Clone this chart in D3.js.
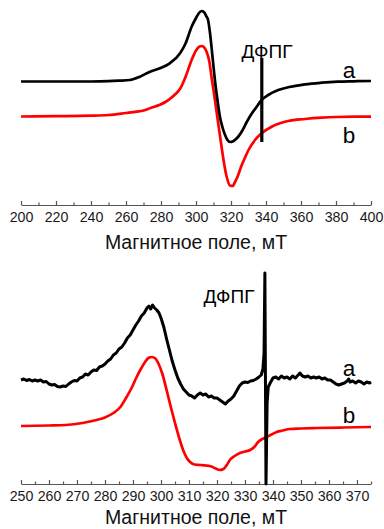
<!DOCTYPE html>
<html>
<head>
<meta charset="utf-8">
<script src="https://cdn.jsdelivr.net/npm/d3@7"></script>
<style>
  body { margin: 0; background: #fff; }
  svg { display: block; font-family: "Liberation Sans", Arial, sans-serif; }
</style>
</head>
<body>
<div id="chart"></div>
<script>
// ---- data: field (mT), signal (a.u., 0 = own baseline) ----
const topFieldTicks = d3.range(200, 401, 20);
const topMinorTicks = d3.range(210, 400, 20);
const botFieldTicks = d3.range(250, 371, 10);
const botMinorTicks = d3.range(255, 376, 10);
const axisTitle = 'Магнитное поле, мТ';
const dpphLabel = 'ДФПГ';

// upper panel, sample a
const topA = [
  [200, 0], [220, 0], [240, 0], [250, 0.3], [256, 0.8], [262.3, 1.5], [268, 4.8],
  [273.7, 9.8], [279.4, 13.2], [285, 18.2], [290.9, 28.2], [294, 38], [297.5, 54.8],
  [300, 63.5], [301.5, 68], [303.2, 70.5], [304.5, 69.5], [306, 65], [306.9, 61.5],
  [308, 48.5], [309.5, 23.5], [311, -1.5], [312.3, -19], [313.7, -35.5], [315, -45],
  [316.6, -53.5], [318, -58.5], [319.4, -60.5], [321, -60], [322.5, -58], [324, -55.5],
  [326.5, -49], [329, -40.5], [331.5, -33], [334.6, -25.5], [337.5, -18.5], [341.3, -13.5],
  [347, -8.5], [352.6, -5.8], [362.3, -2.8], [371.8, -1.2], [381, -0.2], [390, 0.2], [400, 0.5]
];
// upper panel, sample b
const topB = [
  [200, 0], [220, 0.3], [240, 0.8], [250, 1.5], [260, 3.5], [266, 4.8], [270, 6],
  [274, 8.5], [279, 11.5], [283, 15], [285, 17.5], [288, 22], [291, 28], [294, 39.5],
  [297.5, 56.5], [300, 66], [302, 70], [303.2, 70.5], [304.5, 69.5], [306, 65], [307.5, 56],
  [309, 38], [310, 26.5], [311.5, 8], [313, -10.5], [314.5, -29], [316, -46.5], [317.5, -60],
  [319.4, -69], [321, -69.5], [322, -66.5], [324, -59], [325.7, -50.5], [328, -41],
  [330, -33.5], [333.7, -23.5], [337.5, -16.8], [343.2, -10.2], [348, -6.8], [352.6, -4.5],
  [362.3, -2.5], [371.8, -1.2], [380, -0.5], [390.9, -0.2], [400, -0.2]
];
const topOffsets = { a: 123.5, b: 88.5 };
const topDpph = { field: 337.6, from: 63, to: 147 };

// lower panel, sample a (noisy, with DPPH reference line)
const botA = [
  [250, 3], [251, 4], [252, 2.5], [253, 3.5], [254, 2], [255, 3], [256, 2], [257, 3],
  [258, 1], [259, 1.5], [260, -1], [261, -2], [262, -1.5], [263, -3.5], [264, -4],
  [265, -3], [266, -3.5], [267, -1], [268, 1], [269, 2.5], [270, 2], [271, 5], [272, 6],
  [273, 9], [274, 8], [275, 11], [276, 13], [277, 12.5], [278, 16], [279, 17], [280, 19],
  [281, 22], [282, 24], [283, 28], [284, 30], [285, 34], [286, 36], [287, 40], [288, 45],
  [289, 48], [290, 53], [291, 58], [292, 62], [293, 67], [294, 70], [295, 75], [295.7, 77],
  [296.3, 74], [297, 78], [297.7, 75], [298.5, 73], [299.3, 70], [300, 65], [301, 56],
  [302, 44], [303, 33], [304, 22], [305, 13], [306, 5], [307, -1], [308, -6], [309, -9],
  [310, -12], [311, -13], [312, -15], [313, -12], [314, -10], [315, -12], [316, -11],
  [317, -14], [318, -13], [319, -15], [320, -15], [321, -17], [322, -19], [323, -21],
  [324, -18], [325, -16], [326, -13], [327, -8], [328, -3], [329, 0], [330, 1], [331, 0.5],
  [332, 2], [333, 2.5], [334, 4], [335, 6], [335.8, 8], [336.4, 14], [336.8, 30],
  [337.1, 110], [337.5, -101], [337.9, -20], [338.3, -4], [339, 0], [340, 5], [341, 6],
  [342, 4], [343, 7], [344, 5], [345, 6], [346, 4], [347, 7], [348, 5], [349, 8],
  [349.6, 10], [350.5, 7], [351.5, 6], [352.5, 7], [353.5, 5], [354.5, 6], [355.5, 5],
  [356.5, 6], [357.5, 4], [358.5, 5], [359.5, 3], [360.5, 3], [361.5, 1], [362.5, -1],
  [363.5, -2], [364.5, -1], [365.5, 0], [366.5, 2], [367, 4], [367.5, 1], [368.5, 2],
  [369.5, 0], [370.5, 2], [371.5, 1], [372.5, -1], [373.5, 1], [374.5, 0], [375, 1]
];
// lower panel, sample b
const botB = [
  [250, 1], [260, 1.5], [266, 2], [272, 4], [277, 7], [280, 9.5], [283, 14], [285.5, 20],
  [287.7, 30], [289.5, 39], [291.3, 50], [293, 59], [294.3, 65], [295.5, 69], [296.7, 70],
  [298, 68.5], [299, 64], [300.5, 53], [302, 37], [303.5, 20], [305, 4], [306.5, -11],
  [307.9, -23], [309.2, -31], [310.4, -35], [312, -37.5], [314, -38], [316, -38.5],
  [318, -39.5], [319.5, -41.5], [321, -43], [322.3, -42], [323.5, -38], [324.6, -33],
  [326.3, -29], [328.2, -26], [330, -24.5], [331.8, -23], [333.3, -20], [334.7, -15],
  [336.2, -12], [337.7, -10], [339.5, -7.5], [341.3, -5], [343.5, -3.5], [346, -2],
  [350, -1.5], [355.6, -1], [365, -0.5], [375, 0]
];
const botOffsets = { a: 101, b: 57 };

const width = 384;
const height = 529;

const svg = d3.select('#chart')
  .append('svg')
  .attr('width', width)
  .attr('height', height);

function drawAxis(g, x, majors, minors) {
  g.call(d3.axisBottom(x).tickValues(majors).tickSizeInner(-4).tickSizeOuter(0).tickPadding(7))
    .attr('font-family', null)
    .attr('font-size', 14.2);
  g.select('.domain').attr('stroke', '#555').attr('stroke-width', 1.2);
  g.selectAll('.tick line').attr('stroke', '#555').attr('stroke-width', 1.2);
  g.selectAll('.tick text').attr('fill', '#1a1a1a');
  g.append('g')
    .call(d3.axisBottom(x).tickValues(minors).tickSizeInner(-2.5).tickSizeOuter(0).tickFormat(''))
    .call(s => s.select('.domain').remove())
    .selectAll('.tick line').attr('stroke', '#555').attr('stroke-width', 1.2);
}

function drawPanel(cfg) {
  const x = d3.scaleLinear().domain(cfg.xDomain).range([21, 371]);
  const y = d3.scaleLinear().domain([0, cfg.axisY - cfg.top]).range([cfg.axisY, cfg.top]);

  // X axis
  drawAxis(svg.append('g').attr('transform', 'translate(0,' + cfg.axisY + ')'), x, cfg.majors, cfg.minors);

  svg.append('text')
    .attr('x', 196)
    .attr('y', cfg.titleY)
    .attr('text-anchor', 'middle')
    .attr('font-size', 19.5)
    .attr('fill', '#111')
    .text(axisTitle);

  // spectra
  const series = [
    { data: cfg.b, off: cfg.offsets.b, color: '#ff0000', curve: d3.curveMonotoneX },
    { data: cfg.a, off: cfg.offsets.a, color: '#000', curve: cfg.noisy ? d3.curveLinear : d3.curveMonotoneX }
  ];
  series.forEach(s => {
    svg.append('path')
      .datum(s.data)
      .attr('fill', 'none')
      .attr('stroke', s.color)
      .attr('stroke-width', cfg.noisy && s.color === '#000' ? 3 : 2.7)
      .attr('stroke-linejoin', 'round')
      .attr('d', d3.line().curve(s.curve)
        .x(d => x(d[0]))
        .y(d => y(d[1] + s.off)));
  });

  // DPPH marker line (upper panel only)
  if (cfg.dpph) {
    svg.append('line')
      .attr('x1', x(cfg.dpph.field)).attr('x2', x(cfg.dpph.field))
      .attr('y1', y(cfg.dpph.from)).attr('y2', y(cfg.dpph.to))
      .attr('stroke', '#000')
      .attr('stroke-width', 3.2);
  }

  svg.append('text')
    .attr('x', cfg.dpphText[0]).attr('y', cfg.dpphText[1])
    .attr('text-anchor', 'middle')
    .attr('font-size', 19)
    .text(dpphLabel);

  // series labels
  svg.append('text').attr('x', 349).attr('y', cfg.labelA)
    .attr('text-anchor', 'middle').attr('font-size', 22.5).text('a');
  svg.append('text').attr('x', 349).attr('y', cfg.labelB)
    .attr('text-anchor', 'middle').attr('font-size', 22.5).text('b');
}

drawPanel({
  xDomain: [200, 400], axisY: 205, top: 0, titleY: 249,
  majors: topFieldTicks, minors: topMinorTicks,
  a: topA, b: topB, offsets: topOffsets, noisy: false,
  dpph: topDpph, dpphText: [267, 58], labelA: 78, labelB: 143
});

drawPanel({
  xDomain: [250, 375], axisY: 484, top: 268, titleY: 524,
  majors: botFieldTicks, minors: botMinorTicks,
  a: botA, b: botB, offsets: botOffsets, noisy: true,
  dpph: null, dpphText: [229, 303], labelA: 376, labelB: 423
});
</script>
</body>
</html>
